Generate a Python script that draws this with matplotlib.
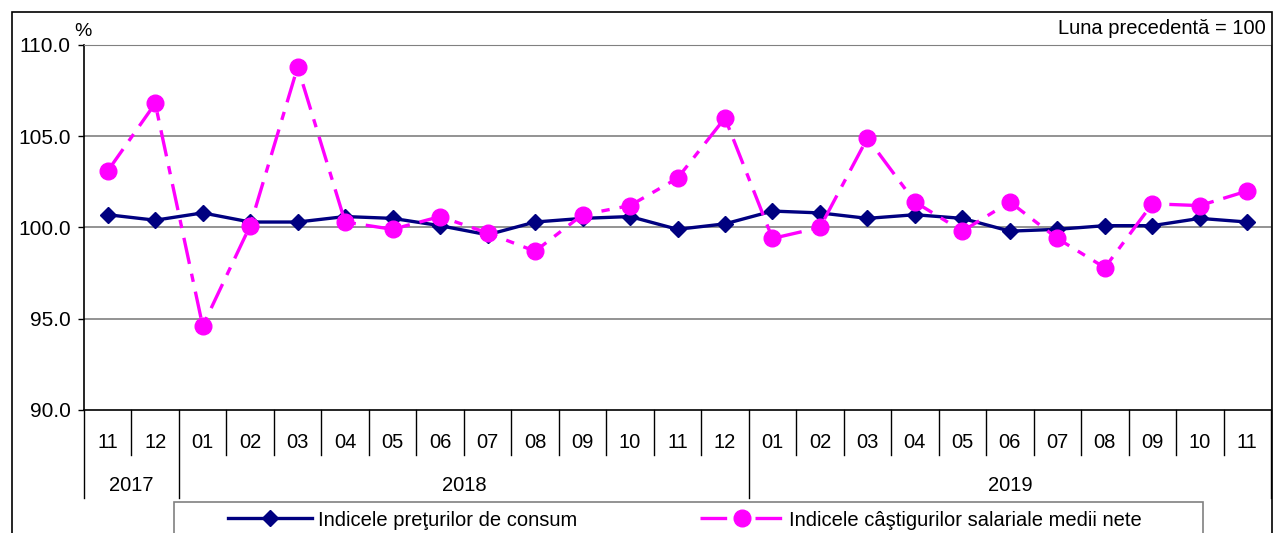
import matplotlib
matplotlib.use("Agg")
import matplotlib.pyplot as plt
import matplotlib.transforms as mtransforms
from matplotlib.patches import Rectangle
from matplotlib.lines import Line2D

plt.rcParams['font.family'] = ['Liberation Sans', 'DejaVu Sans']

# ---- data ----
months = ["11", "12", "01", "02", "03", "04", "05", "06", "07", "08", "09", "10",
          "11", "12", "01", "02", "03", "04", "05", "06", "07", "08", "09", "10", "11"]
years = ["2017"] * 2 + ["2018"] * 12 + ["2019"] * 11
cpi = [100.7, 100.4, 100.8, 100.3, 100.3, 100.6, 100.5, 100.1, 99.6, 100.3, 100.5, 100.6,
       99.9, 100.2, 100.9, 100.8, 100.5, 100.7, 100.5, 99.8, 99.9, 100.1, 100.1, 100.5, 100.3]
wages = [103.1, 106.8, 94.6, 100.1, 108.8, 100.3, 99.9, 100.6, 99.7, 98.7, 100.7, 101.2,
         102.7, 106.0, 99.4, 100.0, 104.9, 101.4, 99.8, 101.4, 99.4, 97.8, 101.3, 101.2, 102.0]
yticks = [90, 95, 100, 105, 110]
label_cpi = "Indicele preţurilor de consum"
label_wages = "Indicele câştigurilor salariale medii nete"
note = "Luna precedentă = 100"

W, H = 1273, 533
fig = plt.figure(figsize=(W / 100, H / 100), dpi=100)

def fx(px):
    return px / W

def fy(py):
    return 1 - py / H

# outer frame
fig.patches.append(Rectangle((fx(12), fy(545)), fx(1272) - fx(12), fy(12) - fy(545),
                             transform=fig.transFigure, fill=False, edgecolor='black',
                             linewidth=1.2, clip_on=False))

left, right, top, bottom = 84, 1271, 45, 410
ax = fig.add_axes([fx(left), fy(bottom), fx(right) - fx(left), fy(top) - fy(bottom)])

x = list(range(len(months)))
ax.plot(x, cpi, color='#000080', linewidth=2.4, marker='D', markersize=8.5,
        label=label_cpi, zorder=3)
ax.plot(x, wages, color='#FF00FF', linewidth=2.4, marker='o', markersize=12,
        linestyle=(0, (8, 3, 2.5, 3)), label=label_wages, zorder=4)

ax.set_xlim(-0.5, len(months) - 0.5)
ax.set_ylim(90, 110)
ax.set_yticks(yticks)
ax.set_yticklabels([f"{v:.1f}" for v in yticks], fontsize=15)
ax.tick_params(axis='y', direction='out', length=4.5, width=1, pad=5)
ax.set_xticks([])
for v in yticks[1:]:
    ax.axhline(v, color='#808080', linewidth=1.2, zorder=1)
ax.spines['left'].set_color('black')
ax.spines['bottom'].set_color('black')
ax.spines['left'].set_linewidth(1.2)
ax.spines['bottom'].set_linewidth(1.2)
ax.spines['top'].set_color('#808080')
ax.spines['right'].set_color('#808080')

# category axis: months, years, separators
axh = bottom - top
def ay(py):
    return (bottom - py) / axh

trans = mtransforms.blended_transform_factory(ax.transData, ax.transAxes)
for i, m in enumerate(months):
    ax.text(i, ay(442), m, transform=trans, ha='center', va='center', fontsize=14.5)

n = len(months)
for b in range(n + 1):
    pos = b - 0.5
    long = (b == 0 or b == n or years[b] != years[b - 1])
    ax.add_line(Line2D([pos, pos], [0, ay(498 if long else 455)], transform=trans,
                       color='black', linewidth=1, clip_on=False))

start = 0
for i in range(1, n + 1):
    if i == n or years[i] != years[start]:
        ax.text((start + i - 1) / 2, ay(485), years[start], transform=trans,
                ha='center', va='center', fontsize=14.5)
        start = i

# texts
fig.text(fx(83), fy(31), "%", ha='center', va='center', fontsize=14)
fig.text(fx(1266), fy(29), note, ha='right', va='center', fontsize=14.5)

# legend
fig.patches.append(Rectangle((fx(174), fy(545)), fx(1203) - fx(174), fy(502) - fy(545),
                             transform=fig.transFigure, fill=False, edgecolor='#808080',
                             linewidth=1.2, clip_on=False))
handles, labels = ax.get_legend_handles_labels()
fig.legend(handles, labels, loc='center left', bbox_to_anchor=(fx(228), fy(520)),
           ncol=2, frameon=False, fontsize=14.5, handlelength=4.15, handletextpad=0.3,
           columnspacing=6.1, numpoints=1, borderpad=0, borderaxespad=0)

fig.savefig("out.png", dpi=100)
